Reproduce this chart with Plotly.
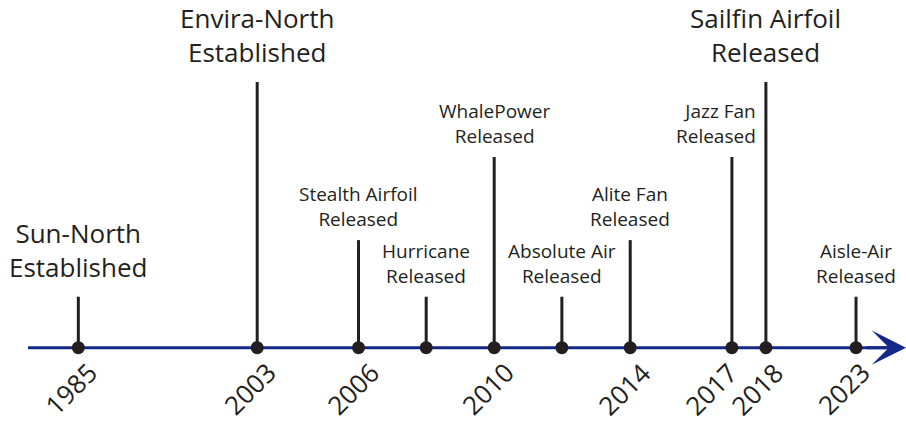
import plotly.graph_objects as go

# ---- data ----
event_labels = [
    "Sun-North<br>Established",
    "Envira-North<br>Established",
    "Stealth Airfoil<br>Released",
    "Hurricane<br>Released",
    "WhalePower<br>Released",
    "Absolute Air<br>Released",
    "Alite Fan<br>Released",
    "Jazz Fan<br>Released",
    "Sailfin Airfoil<br>Released",
    "Aisle-Air<br>Released",
]
event_years = [1985, 2003, 2006, 2008, 2010, 2012, 2014, 2017, 2018, 2023]
# position of each event along the (non-linear) timeline
timeline_pos = [0, 5.26, 8.24, 10.23, 12.23, 14.22, 16.23, 19.22, 20.22, 22.87]
stem_height = [1.0, 5.21, 2.11, 1.0, 3.74, 1.0, 2.11, 3.74, 5.21, 1.0]
major_event = [True, True, False, False, False, False, False, False, True, False]
year_shown = [True, True, True, False, True, False, True, True, True, True]

tick_vals = [p for p, s in zip(timeline_pos, year_shown) if s]
tick_text = [str(y) for y, s in zip(event_years, year_shown) if s]

X_MIN, X_MAX = -1.48, 24.34
Y_MIN, Y_MAX = -0.084, 6.818

INK = "#231f20"
NAVY = "#14288a"
FONT = "Open Sans"

# horizontal nudges (px) of individual year labels, to avoid collisions
YEAR_NUDGE = {"2006": 2, "2010": 1, "2014": 2, "2017": -13, "2018": -1, "2023": -5}

fig = go.Figure()

# timeline line (under the dots)
fig.add_trace(go.Scatter(
    x=[X_MIN, X_MAX - 0.5], y=[0, 0], mode="lines",
    line=dict(color=NAVY, width=3), hoverinfo="skip", showlegend=False,
))

# stems
sx, sy = [], []
for p, h in zip(timeline_pos, stem_height):
    sx += [p, p, None]
    sy += [0, h, None]
fig.add_trace(go.Scatter(
    x=sx, y=sy, mode="lines", line=dict(color=INK, width=3),
    hoverinfo="skip", showlegend=False,
))

# dots
fig.add_trace(go.Scatter(
    x=timeline_pos, y=[0] * len(timeline_pos), mode="markers",
    marker=dict(color=INK, size=13), hoverinfo="skip", showlegend=False,
    cliponaxis=False,
))

# arrow head
fig.add_annotation(
    x=X_MAX, y=0, ax=X_MAX - 1.2, ay=0, xref="x", yref="y", axref="x", ayref="y",
    showarrow=True, arrowhead=3, arrowsize=1.9, arrowwidth=3, arrowcolor=NAVY,
    text="",
)

# event labels
for lab, p, h, big in zip(event_labels, timeline_pos, stem_height, major_event):
    xshift = 0
    xanchor = "center"
    align = "center"
    if lab.startswith("Jazz"):
        xanchor, align, xshift = "right", "right", 26
    fig.add_annotation(
        x=p, y=h, xref="x", yref="y", text=lab, showarrow=False,
        xanchor=xanchor, yanchor="bottom", align=align, xshift=xshift,
        yshift=10 if big else 6,
        font=dict(family=FONT, size=26 if big else 19, color=INK),
    )

# rotated year labels under the timeline
for tv, tt in zip(tick_vals, tick_text):
    fig.add_annotation(
        x=tv, y=0, xref="x", yref="y", text=tt, showarrow=False,
        textangle=-45, xanchor="center", yanchor="middle",
        xshift=-8 + YEAR_NUDGE.get(tt, 0), yshift=-41,
        font=dict(family=FONT, size=26, color=INK),
    )

fig.update_layout(
    width=906, height=422,
    margin=dict(l=28, r=0, t=0, b=70, autoexpand=False),
    paper_bgcolor="white", plot_bgcolor="white",
    showlegend=False,
    xaxis=dict(
        range=[X_MIN, X_MAX], showgrid=False, zeroline=False, showline=False,
        tickmode="array", tickvals=tick_vals, ticktext=tick_text,
        showticklabels=False, ticks="", automargin=False, fixedrange=True,
    ),
    yaxis=dict(range=[Y_MIN, Y_MAX], visible=False, fixedrange=True,
               automargin=False),
)

fig.write_html(
    "out.html",
    config={"displayModeBar": False},
    post_script="document.body.style.margin='0px';document.body.style.padding='0px';",
)
